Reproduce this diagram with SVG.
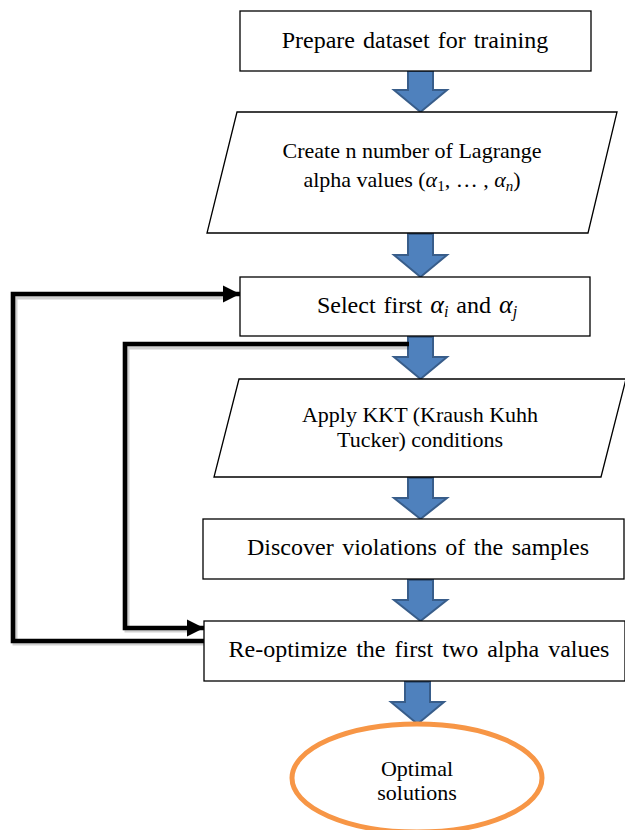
<svg xmlns="http://www.w3.org/2000/svg" width="625" height="830" viewBox="0 0 625 830">
<style>
.box{fill:#fff;stroke:#000;stroke-width:1.3}
.blk{fill:#4F81BD;stroke:#385D8A;stroke-width:2;stroke-linejoin:miter}
.t{fill:#000;text-anchor:middle}
.m{font-style:italic}
.con{fill:none;stroke:#000;stroke-width:4.6;stroke-linejoin:miter}
.sh{fill:none;stroke:#000;stroke-opacity:0.18;stroke-width:5;stroke-linejoin:miter}
</style>
<defs>
<marker id="ah" markerUnits="userSpaceOnUse" markerWidth="19" markerHeight="19" refX="17" refY="9" orient="auto">
<path d="M0,0.5 L17,9 L0,17.5 Z" fill="#000"/>
</marker>
</defs>
<rect width="625" height="830" fill="#fff"/>

<g id="arrows">
<path class="blk" d="M408,71 H433 V90 H447 L420.5,112 L394,90 H408 Z"/>
<path class="blk" d="M408,234 H433 V255 H447 L420.5,277 L394,255 H408 Z"/>
<path class="blk" d="M408,337 H433 V357 H447 L420.5,379 L394,357 H408 Z"/>
<path class="blk" d="M408,478 H433 V498 H447 L420.5,519 L394,498 H408 Z"/>
<path class="blk" d="M408,580 H433 V600 H447 L420.5,621 L394,600 H408 Z"/>
<path class="blk" d="M405,682 H430 V702 H444 L417.5,724 L391,702 H405 Z"/>
</g>

<g font-family="'Liberation Serif', 'DejaVu Serif', serif">
<g id="n1">
<rect class="box" x="240" y="11" width="351" height="60"/>
<text class="t" x="415" y="48" font-size="24" word-spacing="2">Prepare dataset for training</text>
</g>

<g id="n2">
<path class="box" d="M237,112 H617 L588,233 H207 Z"/>
<text class="t" x="412" y="158" font-size="22">Create n number of Lagrange</text>
<text class="t" x="412" y="187" font-size="22">alpha values (<tspan class="m">α</tspan><tspan font-size="15" dy="4">1</tspan><tspan dy="-4">, … , </tspan><tspan class="m">α</tspan><tspan class="m" font-size="15" dy="4">n</tspan><tspan dy="-4">)</tspan></text>
</g>

<g id="n3">
<rect class="box" x="240" y="277" width="350" height="59"/>
<text class="t" x="417" y="313" font-size="24" word-spacing="2">Select first <tspan class="m" font-size="26">α</tspan><tspan class="m" font-size="16" dy="4">i</tspan><tspan dy="-4"> and </tspan><tspan class="m" font-size="26">α</tspan><tspan class="m" font-size="16" dy="4">j</tspan></text>
</g>

<g id="n4">
<path class="box" d="M239,379 H626 L601,477 H214 Z"/>
<text class="t" x="420" y="422" font-size="22">Apply KKT (Kraush Kuhh</text>
<text class="t" x="420" y="447" font-size="22">Tucker) conditions</text>
</g>

<g id="n5">
<rect class="box" x="203" y="519" width="421" height="60"/>
<text class="t" x="418" y="555" font-size="24" word-spacing="2.5">Discover violations of the samples</text>
</g>

<g id="n6">
<rect class="box" x="204" y="621" width="421" height="60"/>
<text class="t" x="419" y="657" font-size="24" word-spacing="3">Re-optimize the first two alpha values</text>
</g>

<g id="n7">
<ellipse cx="417" cy="778" rx="125" ry="54" fill="#fff" stroke="#F79646" stroke-width="5"/>
<text class="t" x="417" y="776" font-size="22">Optimal</text>
<text class="t" x="417" y="800" font-size="22">solutions</text>
</g>
</g>

<g id="connectors">
<path class="sh" d="M204,643 H15 V297 H224"/>
<path class="sh" d="M409,347 H127 V630 H188"/>
<path class="con" d="M204,641 H13 V294 H240" marker-end="url(#ah)"/>
<path class="con" d="M409,344 H125 V628 H204" marker-end="url(#ah)"/>
</g>
</svg>
